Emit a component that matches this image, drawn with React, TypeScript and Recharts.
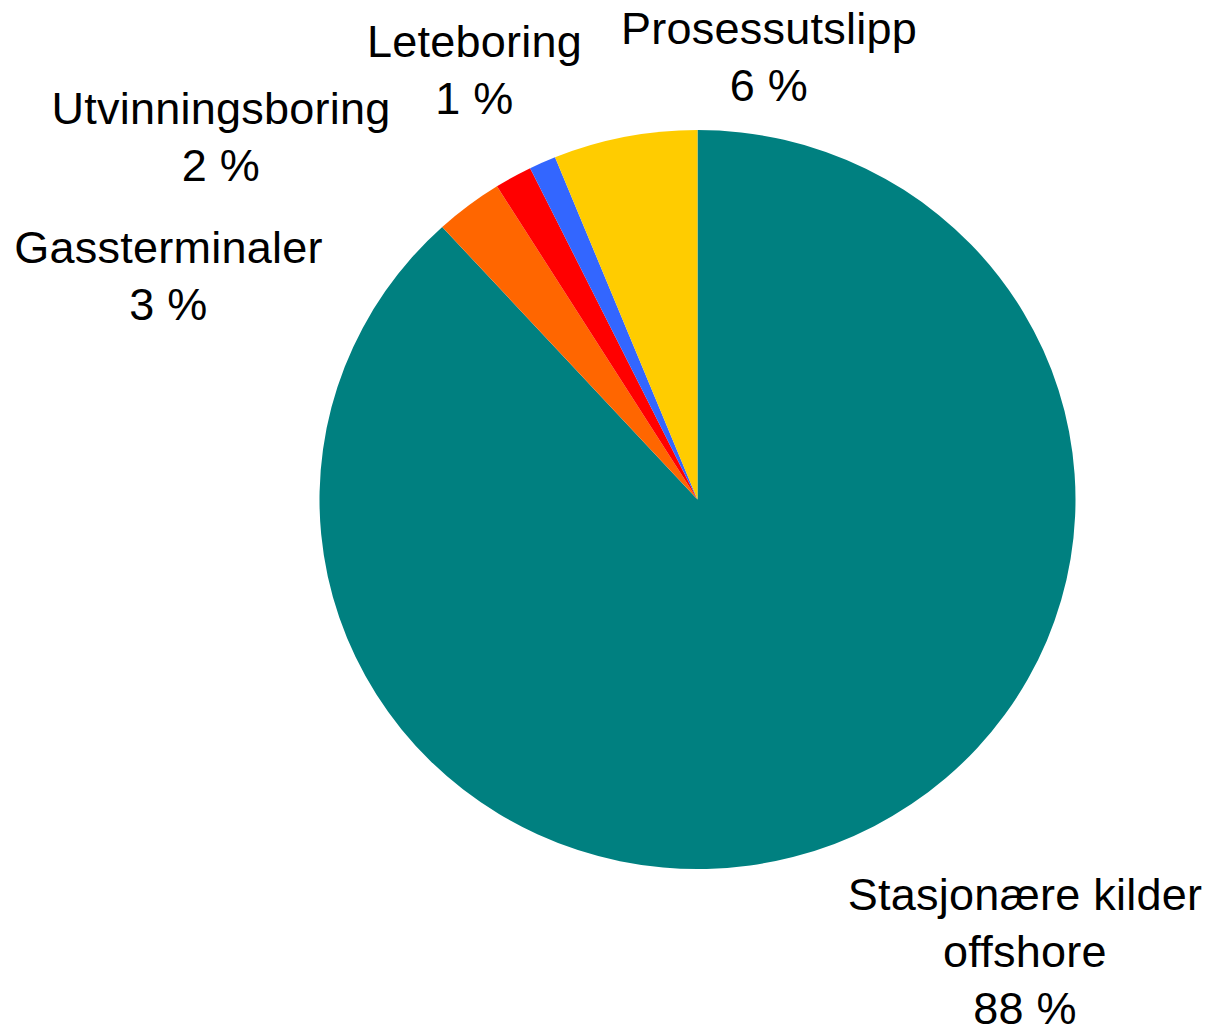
import React from "react";
import { PieChart, Pie, Cell } from "recharts";

// Categories in clockwise order starting at 12 o'clock
const categories = [
  "Stasjonære kilder offshore",
  "Gassterminaler",
  "Utvinningsboring",
  "Leteboring",
  "Prosessutslipp",
];
const values = [88.2, 2.9, 1.6, 1.15, 6.15];
const colors = ["#008080", "#FF6600", "#FF0000", "#3366FF", "#FFCC00"];
const labelLines = [
  ["Stasjonære kilder", "offshore"],
  ["Gassterminaler"],
  ["Utvinningsboring"],
  ["Leteboring"],
  ["Prosessutslipp"],
];
// label block anchor (center x, first baseline) relative to pie centre
const labelOffsets = [
  { dx: 327.5, dy: 410 },
  { dx: -529, dy: -236.8 },
  { dx: -476.5, dy: -375.5 },
  { dx: -223, dy: -442.5 },
  { dx: 71.5, dy: -455.5 },
];

const data = categories.map((name, i) => ({ name, value: values[i] }));

const W = 1210;
const H = 1030;
const CX = 697.5;
const CY = 499.5;
const R = 369.5;
const X_STRETCH = 378 / 369.5;
const FONT = "'Liberation Sans', Arial, Helvetica, sans-serif";
const FONT_SIZE = 45;
const LETTER_SPACING = 0.25;
const LINE_H = 57.3;

const EllipseSector = (props: any) => {
  const { cx, cy, outerRadius, startAngle, endAngle, fill } = props;
  const rx = outerRadius * X_STRETCH;
  const ry = outerRadius;
  const rad = Math.PI / 180;
  const x1 = cx + rx * Math.cos(-startAngle * rad);
  const y1 = cy + ry * Math.sin(-startAngle * rad);
  const x2 = cx + rx * Math.cos(-endAngle * rad);
  const y2 = cy + ry * Math.sin(-endAngle * rad);
  const large = Math.abs(endAngle - startAngle) > 180 ? 1 : 0;
  const sweep = startAngle > endAngle ? 1 : 0;
  return (
    <path
      d={`M${cx},${cy} L${x1},${y1} A${rx},${ry} 0 ${large} ${sweep} ${x2},${y2} Z`}
      fill={fill}
      stroke="none"
    />
  );
};

const renderLabel = (props: any) => {
  const { cx, cy, index, percent } = props;
  const off = labelOffsets[index];
  const x = cx + off.dx;
  const y0 = cy + off.dy;
  const lines = [...labelLines[index], `${Math.round(percent * 100)} %`];
  return (
    <text
      key={`lbl-${index}`}
      x={x}
      y={y0}
      textAnchor="middle"
      fill="#000000"
      fontFamily={FONT}
      fontSize={FONT_SIZE}
      style={{ letterSpacing: LETTER_SPACING }}
    >
      {lines.map((l, i) => (
        <tspan key={i} x={x} y={y0 + i * LINE_H}>
          {l}
        </tspan>
      ))}
    </text>
  );
};

export default function App() {
  return (
    <div
      style={{
        position: "absolute",
        left: 0,
        top: 0,
        width: W,
        height: H,
        background: "#ffffff",
      }}
    >
      <PieChart width={W} height={H} margin={{ top: 0, right: 0, bottom: 0, left: 0 }}>
        <Pie
          data={data}
          dataKey="value"
          nameKey="name"
          cx={CX}
          cy={CY}
          outerRadius={R}
          innerRadius={0}
          startAngle={90}
          endAngle={-270}
          stroke="none"
          label={renderLabel}
          labelLine={false}
          shape={EllipseSector}
          isAnimationActive={false}
        >
          {data.map((d, i) => (
            <Cell key={d.name} fill={colors[i]} />
          ))}
        </Pie>
      </PieChart>
    </div>
  );
}
